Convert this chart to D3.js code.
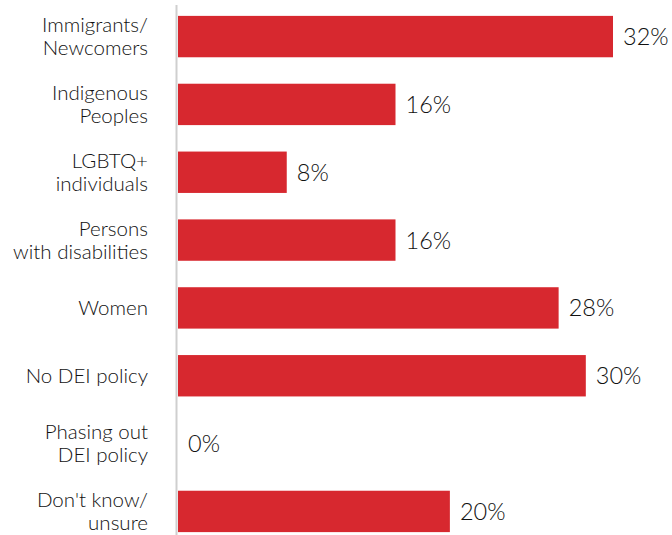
<!DOCTYPE html>
<html>
<head>
<meta charset="utf-8">
<script src="https://cdn.jsdelivr.net/npm/d3@7"></script>
<style>
  body { margin: 0; background: #fff; }
  svg { display: block; font-family: Lato, "Open Sans", sans-serif; font-weight: 300; }
</style>
</head>
<body>
<div id="chart"></div>
<script>
const categories = [
    ["Immigrants/", "Newcomers"],
    ["Indigenous", "Peoples"],
    ["LGBTQ+", "individuals"],
    ["Persons", "with disabilities"],
    ["Women"],
    ["No DEI policy"],
    ["Phasing out", "DEI policy"],
    ["Don't know/", "unsure"]
];
const values = [32, 16, 8, 16, 28, 30, 0, 20];

const width = 672, height = 535;
const margin = { t: 5, r: 20, b: 0, l: 178 };

const svg = d3.select("#chart").append("svg")
    .attr("width", width)
    .attr("height", height);

const x = d3.scaleLinear()
    .domain([0, 32])
    .range([margin.l, 613]);

const y = d3.scaleBand()
    .domain(d3.range(categories.length))
    .range([3, 545])
    .paddingInner(0.39)
    .paddingOuter(0.19);

// bars
svg.append("g")
    .selectAll("rect")
    .data(values)
    .join("rect")
    .attr("x", x(0))
    .attr("y", (d, i) => y(i))
    .attr("width", d => x(d) - x(0))
    .attr("height", y.bandwidth())
    .attr("fill", "#d7282f");

// axis line
svg.append("line")
    .attr("x1", margin.l - 1.5)
    .attr("x2", margin.l - 1.5)
    .attr("y1", margin.t)
    .attr("y2", height)
    .attr("stroke", "#cfcfcf")
    .attr("stroke-width", 2);

// category labels
const lineH = 23;
svg.append("g")
    .selectAll("text")
    .data(categories)
    .join("text")
    .attr("text-anchor", "end")
    .attr("fill", "#111")
    .style("font-size", "20.5px")
    .attr("transform", (d, i) => `translate(148, ${y(i) + y.bandwidth() / 2})`)
    .each(function(lines) {
        const t = d3.select(this);
        const off = -(lines.length - 1) * lineH / 2;
        lines.forEach((l, j) => {
            t.append("tspan")
                .attr("x", 0)
                .attr("y", off + j * lineH)
                .attr("dy", "0.35em")
                .text(l);
        });
    });

// value labels
svg.append("g")
    .selectAll("text")
    .data(values)
    .join("text")
    .attr("x", d => x(d) + 10)
    .attr("y", (d, i) => y(i) + y.bandwidth() / 2)
    .attr("dy", "0.36em")
    .attr("fill", "#111")
    .style("font-size", "23.5px")
    .text(d => d + "%");
</script>
</body>
</html>
